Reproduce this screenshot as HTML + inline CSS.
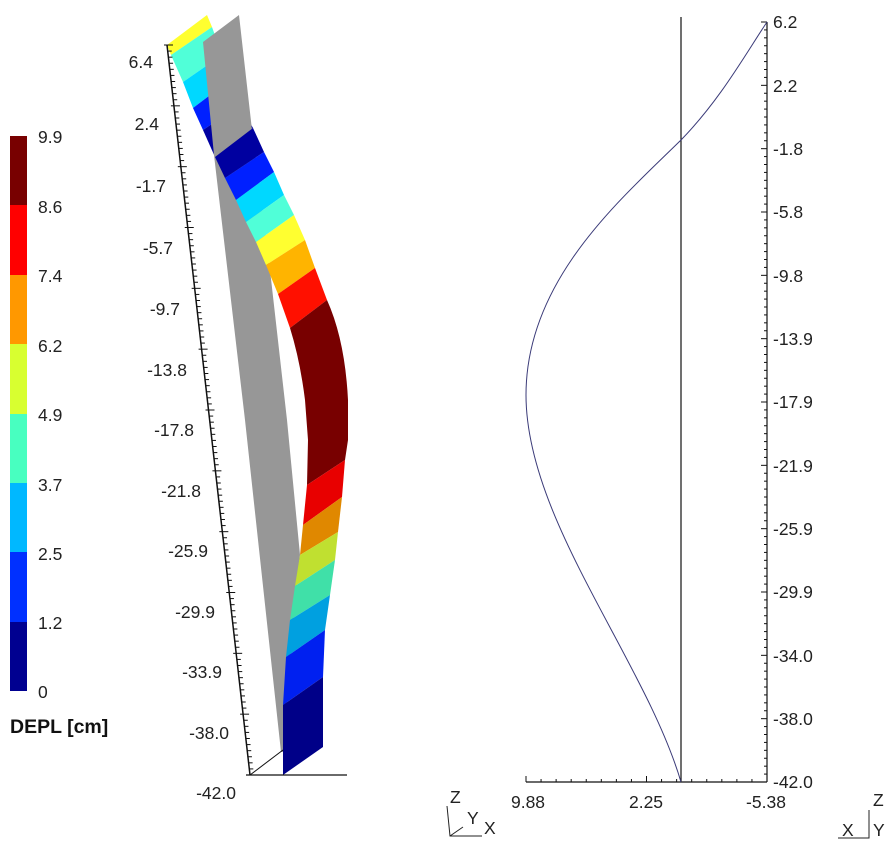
<!DOCTYPE html>
<html><head><meta charset="utf-8"><style>
html,body{margin:0;padding:0;background:#fff;width:892px;height:858px;overflow:hidden}
svg text{font-family:"Liberation Sans",sans-serif;font-size:17.5px;fill:#222}
</style></head><body>
<svg id="s" width="892" height="858" viewBox="0 0 892 858" xmlns="http://www.w3.org/2000/svg">
<rect x="10" y="136" width="17" height="70" fill="#780000"/>
<rect x="10" y="205" width="17" height="70" fill="#ff0000"/>
<rect x="10" y="275" width="17" height="70" fill="#ff9800"/>
<rect x="10" y="344" width="17" height="70" fill="#d8ff30"/>
<rect x="10" y="414" width="17" height="70" fill="#48ffc0"/>
<rect x="10" y="483" width="17" height="70" fill="#00b8ff"/>
<rect x="10" y="552" width="17" height="70" fill="#0030ff"/>
<rect x="10" y="622" width="17" height="69" fill="#000090"/>
<text x="38" y="143">9.9</text><text x="38" y="213">8.6</text><text x="38" y="282">7.4</text>
<text x="38" y="352">6.2</text><text x="38" y="421">4.9</text><text x="38" y="491">3.7</text>
<text x="38" y="560">2.5</text><text x="38" y="629">1.2</text><text x="38" y="698">0</text>
<text x="10" y="733" style="font-weight:bold;font-size:19.5px;fill:#111">DEPL [cm]</text>

<polygon points="167,45 207,15 212,27 171,55" fill="#ffff30"/>
<polygon points="171,55 212,27 222,55 183,82" fill="#50ffd8"/>
<polygon points="183,82 222,55 230,80 193,108" fill="#00d8ff"/>
<polygon points="193,108 230,80 240,105 203,130" fill="#0020ff"/>
<polygon points="203,130 240,105 253,128 215,157" fill="#0000a0"/>
<polygon points="203,42 239,15 252,130 270,270 287,420 300,555 295,600 283,752 281,752 245,420 214,155" fill="#979797"/>
<polygon points="215,157 253,128 264,152 225,178" fill="#0000a0"/>
<polygon points="225,178 264,152 274,172 236,200" fill="#0020ff"/>
<polygon points="236,200 274,172 284,195 246,222" fill="#00d8ff"/>
<polygon points="246,222 284,195 294,215 256,242" fill="#50ffd8"/>
<polygon points="256,242 294,215 305,240 266,265" fill="#ffff30"/>
<polygon points="266,265 305,240 315,268 278,294" fill="#ffb400"/>
<polygon points="278,294 315,268 327,300 290,328" fill="#ff1000"/>
<path d="M290,328 L327,300 Q345,340 348,400 L348,440 L345,460 L307,485 L308,440 L305,400 Q300,360 290,328Z" fill="#780000"/>
<polygon points="307,485 345,460 342,497 303,525" fill="#e80000"/>
<polygon points="303,525 342,497 338,532 300,555" fill="#e08800"/>
<polygon points="300,555 338,532 335,560 295,586" fill="#c0e030"/>
<polygon points="295,586 335,560 330,595 290,620" fill="#40e0a8"/>
<polygon points="290,620 330,595 325,630 286,657" fill="#00a0e0"/>
<polygon points="286,657 325,630 323,677 283,705" fill="#0020f0"/>
<polygon points="283,705 323,677 323,747 283,775" fill="#000088"/>

<line x1="167" y1="45" x2="250" y2="775" stroke="#111" stroke-width="1.5"/>
<line x1="246" y1="775" x2="347" y2="775" stroke="#111" stroke-width="1.2"/>
<line x1="250" y1="775" x2="283" y2="750" stroke="#111" stroke-width="1"/>
<g id="lt" stroke="#111" stroke-width="1"></g>
<g text-anchor="end">
<text x="153" y="68">6.4</text><text x="159" y="130">2.4</text><text x="166" y="192">-1.7</text>
<text x="173" y="254">-5.7</text><text x="180" y="315">-9.7</text><text x="187" y="376">-13.8</text>
<text x="194" y="436">-17.8</text><text x="201" y="497">-21.8</text><text x="208" y="557">-25.9</text>
<text x="215" y="618">-29.9</text><text x="222" y="678">-33.9</text><text x="229" y="739">-38.0</text>
<text x="236" y="799">-42.0</text></g>

<line x1="681" y1="17" x2="681" y2="782" stroke="#111" stroke-width="1.2"/>
<line x1="767" y1="22" x2="767" y2="782" stroke="#111" stroke-width="1.2"/>
<line x1="526" y1="782" x2="767" y2="782" stroke="#111" stroke-width="1.2"/>
<g id="rt" stroke="#111" stroke-width="1"></g>
<path d="M681,782 C645,660 526,520 526,395 C526,280 620,200 681,140 C720,100 745,55 767,22" fill="none" stroke="#3a3a78" stroke-width="1"/>
<g>
<text x="773" y="28">6.2</text><text x="773" y="92">2.2</text><text x="773" y="155">-1.8</text>
<text x="773" y="218">-5.8</text><text x="773" y="282">-9.8</text><text x="773" y="345">-13.9</text>
<text x="773" y="408">-17.9</text><text x="773" y="472">-21.9</text><text x="773" y="535">-25.9</text>
<text x="773" y="598">-29.9</text><text x="773" y="662">-34.0</text><text x="773" y="725">-38.0</text>
<text x="773" y="788">-42.0</text></g>
<g text-anchor="middle"><text x="528" y="808">9.88</text><text x="646" y="808">2.25</text><text x="766" y="808">-5.38</text></g>
<g stroke="#222" stroke-width="1" fill="none">
<path d="M447,806 L450,836 L482,836 M450,836 L463,827"/>
<path d="M838,838 L869,838 L869,810"/>
</g>
<text x="450" y="803">Z</text><text x="467" y="824">Y</text><text x="484" y="834">X</text>
<text x="873" y="806">Z</text><text x="842" y="836">X</text><text x="873" y="836">Y</text>
</svg>
<script>
var NS="http://www.w3.org/2000/svg";
function L(g,x1,y1,x2,y2){var l=document.createElementNS(NS,"line");l.setAttribute("x1",x1);l.setAttribute("y1",y1);l.setAttribute("x2",x2);l.setAttribute("y2",y2);g.appendChild(l);}
var lt=document.getElementById("lt");
for(var i=0;i<=120;i++){var y=45+730*i/120,x=167+83*i/120;var maj=i%10==0;L(lt,maj?x-3:x,y,x+(maj?6:4),y);}
var rt=document.getElementById("rt");
for(var i=0;i<=96;i++){var y=22+760*i/96;var maj=i%8==0;L(rt,767,y,maj?761:764,y);}
for(var i=0;i<=16;i++){var x=526+241*i/16;var maj=i%8==0;L(rt,x,782,x,maj?776:779);}
</script>
</body></html>
